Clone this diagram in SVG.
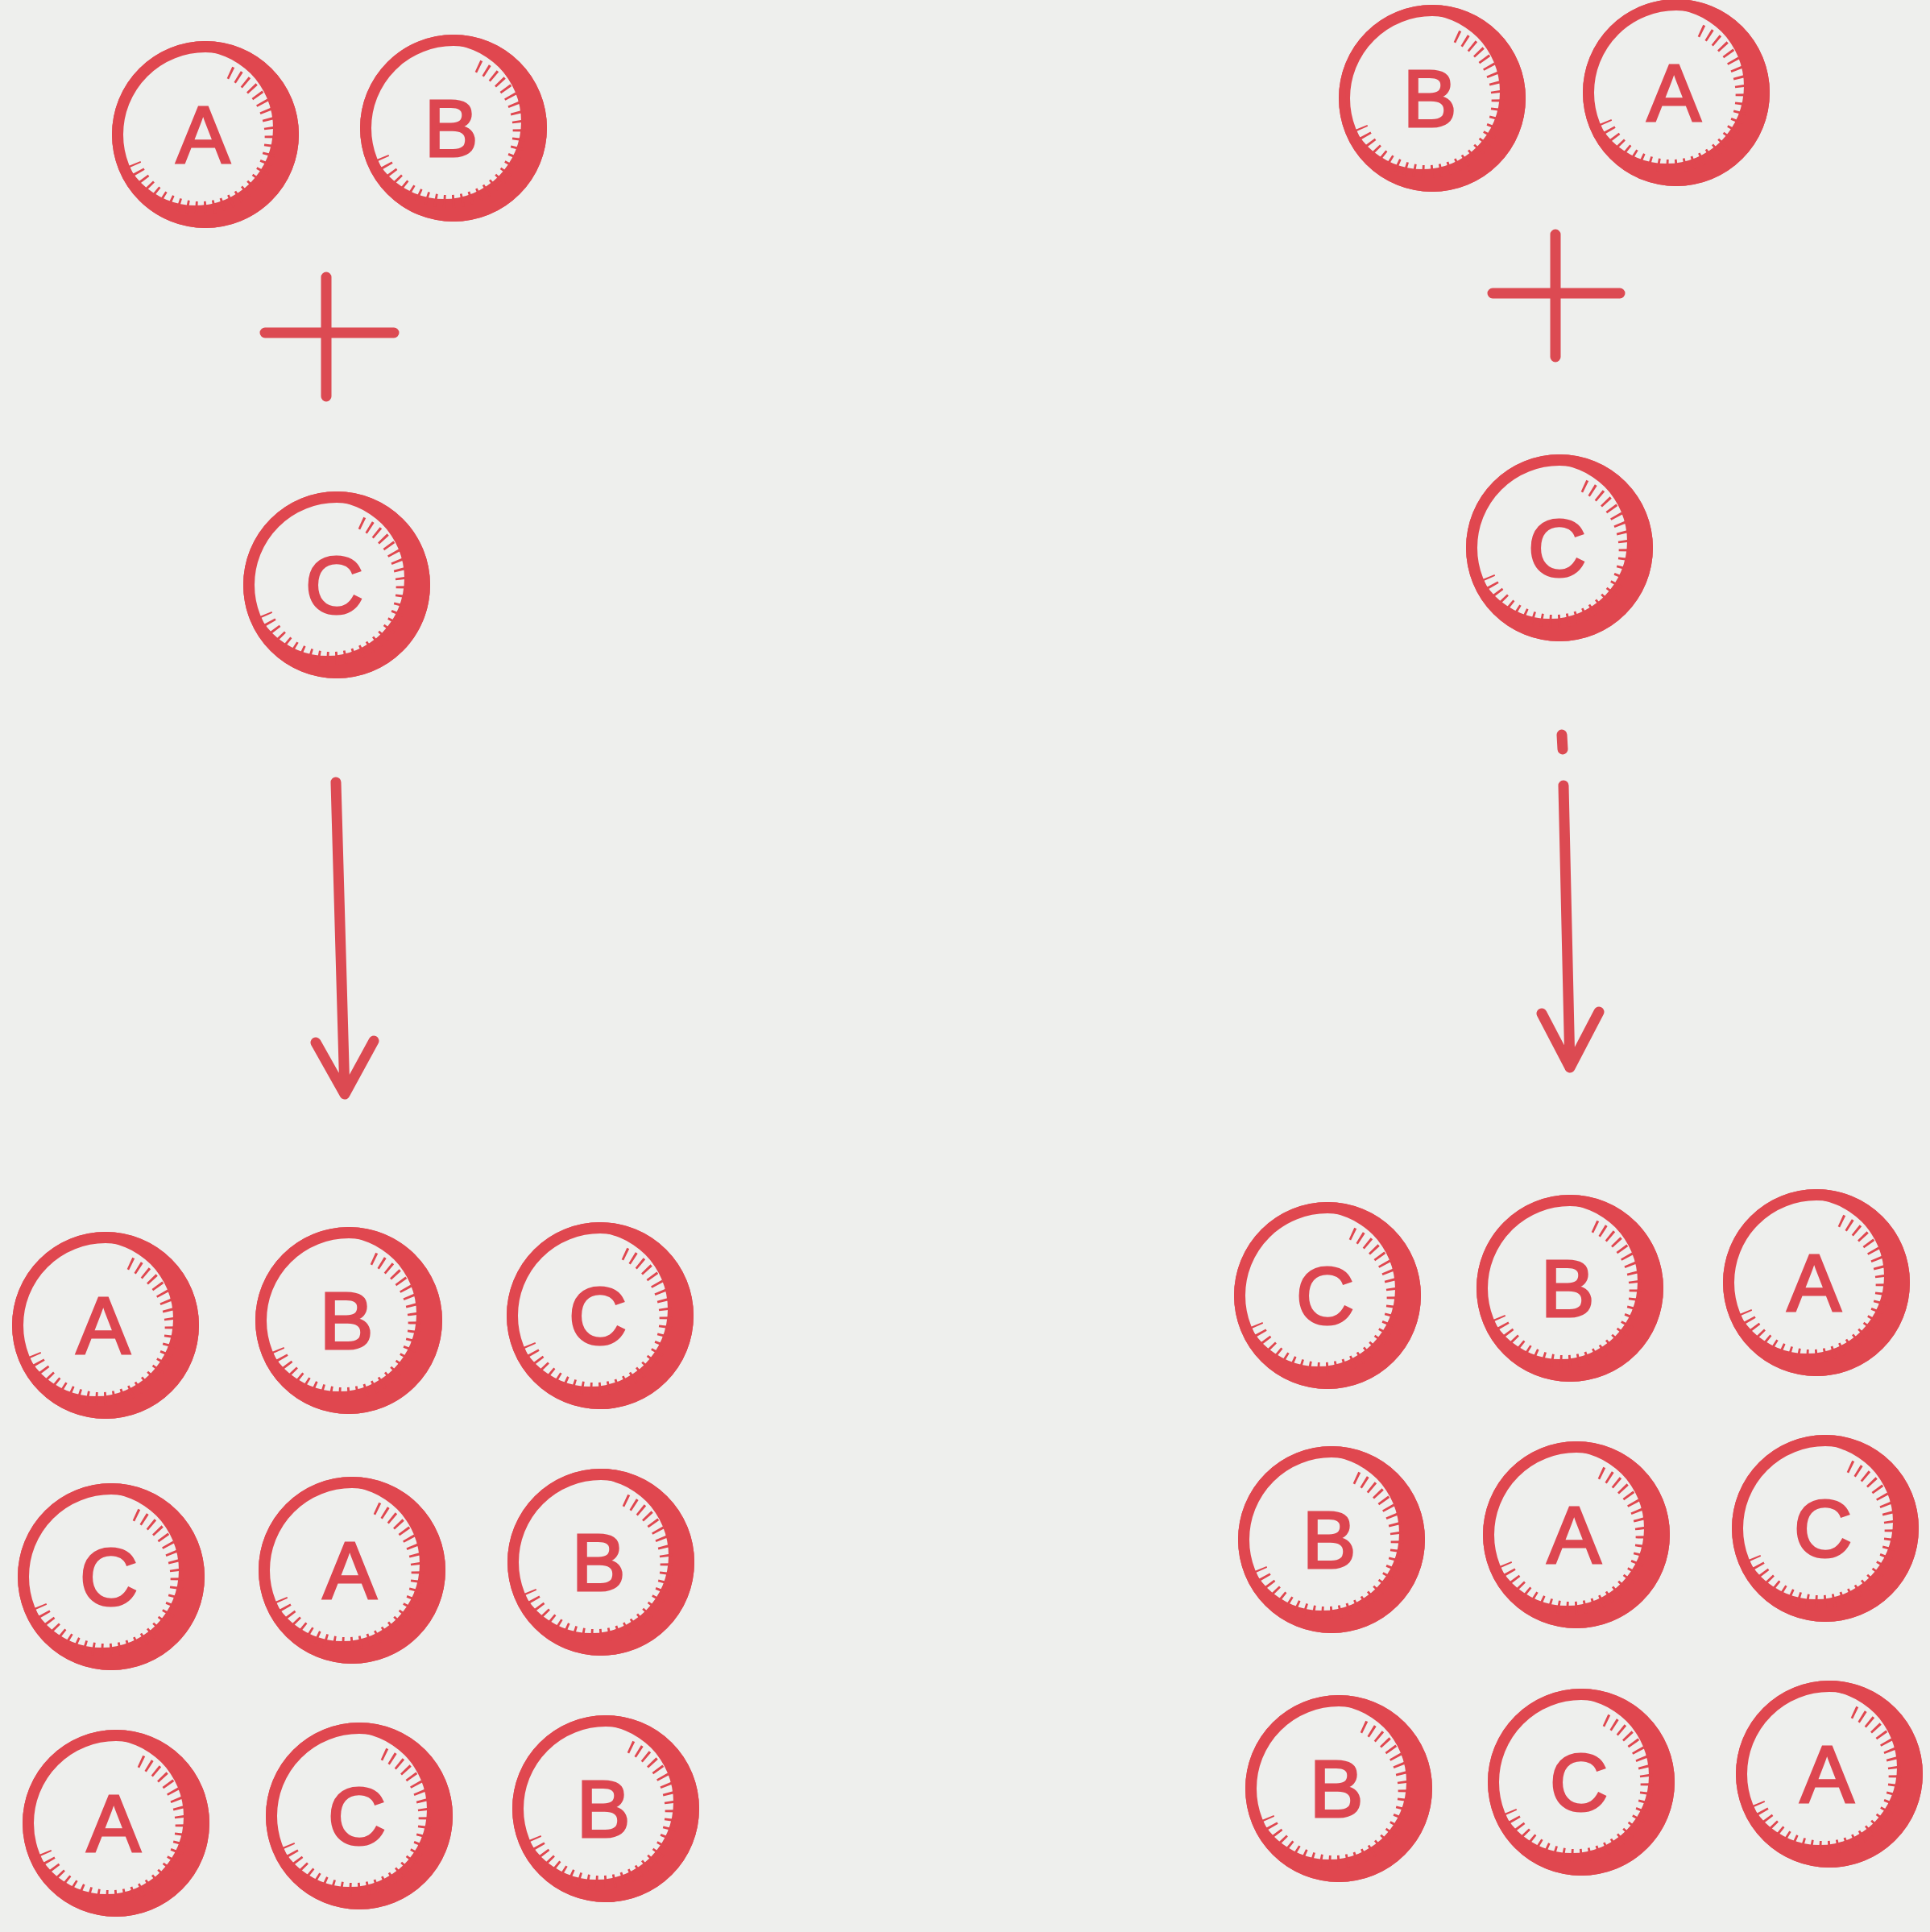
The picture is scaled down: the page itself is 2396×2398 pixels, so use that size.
<svg xmlns="http://www.w3.org/2000/svg" width="2396" height="2398" viewBox="0 0 2396 2398">
<style>
.ring{fill:none;stroke:#e0474f;stroke-width:14}
.shade{fill:#e0474f;fill-rule:evenodd}
.ticks{fill:none;stroke:#e0474f;stroke-width:16;stroke-dasharray:3 8}
.lbl{font-family:"Liberation Sans",Arial,sans-serif;font-size:100px;fill:#dd4650;stroke:#dd4650;stroke-width:3;text-anchor:middle;dominant-baseline:central}
.ln{fill:none;stroke:#dc4a52;stroke-width:13;stroke-linecap:round;stroke-linejoin:round}
</style>
<defs>
<g id="disc">
<circle class="ring" r="109"/>
<path class="shade" d="M116,0 A116,116 0 1,1 -116,0 A116,116 0 1,1 116,0 Z M84,-8 A96,96 0 1,0 -108,-8 A96,96 0 1,0 84,-8 Z"/>
<path class="ticks" d="M30,-77 A88,88 0 1,1 -88,36"/>
</g>
</defs>
<rect width="2396" height="2398" fill="#eeefed"/>
<g id="left-top-A"><use href="#disc" x="255" y="167"/><text class="lbl" x="252" y="167">A</text></g>
<g id="left-top-B"><use href="#disc" x="563" y="159"/><text class="lbl" x="560" y="159">B</text></g>
<g id="left-plus"><path class="ln" d="M329,413 H489 M405,344 V492"/></g>
<g id="left-C"><use href="#disc" x="418" y="726"/><text class="lbl" x="415" y="726">C</text></g>
<g id="right-top-B"><use href="#disc" x="1778" y="122"/><text class="lbl" x="1775" y="122">B</text></g>
<g id="right-top-A"><use href="#disc" x="2081" y="115"/><text class="lbl" x="2078" y="115">A</text></g>
<g id="right-plus"><path class="ln" d="M1853,364 H2011 M1931,291 V443"/></g>
<g id="right-C"><use href="#disc" x="1936" y="680"/><text class="lbl" x="1933" y="680">C</text></g>
<g id="connectors">
<path class="ln" d="M417,971 L428,1358 M392,1294 L428,1358 L464,1292"/>
<path class="ln" d="M1939,912 L1940,930 M1941,975 L1949,1325 M1914,1258 L1949,1325 L1985,1256"/>
</g>
<g id="L-r1-A"><use href="#disc" x="131" y="1645"/><text class="lbl" x="128" y="1645">A</text></g>
<g id="L-r1-B"><use href="#disc" x="433" y="1639"/><text class="lbl" x="430" y="1639">B</text></g>
<g id="L-r1-C"><use href="#disc" x="745" y="1633"/><text class="lbl" x="742" y="1633">C</text></g>
<g id="L-r2-C"><use href="#disc" x="138" y="1957"/><text class="lbl" x="135" y="1957">C</text></g>
<g id="L-r2-A"><use href="#disc" x="437" y="1949"/><text class="lbl" x="434" y="1949">A</text></g>
<g id="L-r2-B"><use href="#disc" x="746" y="1939"/><text class="lbl" x="743" y="1939">B</text></g>
<g id="L-r3-A"><use href="#disc" x="144" y="2263"/><text class="lbl" x="141" y="2263">A</text></g>
<g id="L-r3-C"><use href="#disc" x="446" y="2254"/><text class="lbl" x="443" y="2254">C</text></g>
<g id="L-r3-B"><use href="#disc" x="752" y="2245"/><text class="lbl" x="749" y="2245">B</text></g>
<g id="R-r1-C"><use href="#disc" x="1648" y="1608"/><text class="lbl" x="1645" y="1608">C</text></g>
<g id="R-r1-B"><use href="#disc" x="1949" y="1599"/><text class="lbl" x="1946" y="1599">B</text></g>
<g id="R-r1-A"><use href="#disc" x="2255" y="1592"/><text class="lbl" x="2252" y="1592">A</text></g>
<g id="R-r2-B"><use href="#disc" x="1653" y="1911"/><text class="lbl" x="1650" y="1911">B</text></g>
<g id="R-r2-A"><use href="#disc" x="1957" y="1905"/><text class="lbl" x="1954" y="1905">A</text></g>
<g id="R-r2-C"><use href="#disc" x="2266" y="1897"/><text class="lbl" x="2263" y="1897">C</text></g>
<g id="R-r3-B"><use href="#disc" x="1662" y="2220"/><text class="lbl" x="1659" y="2220">B</text></g>
<g id="R-r3-C"><use href="#disc" x="1963" y="2212"/><text class="lbl" x="1960" y="2212">C</text></g>
<g id="R-r3-A"><use href="#disc" x="2271" y="2202"/><text class="lbl" x="2268" y="2202">A</text></g>
</svg>
